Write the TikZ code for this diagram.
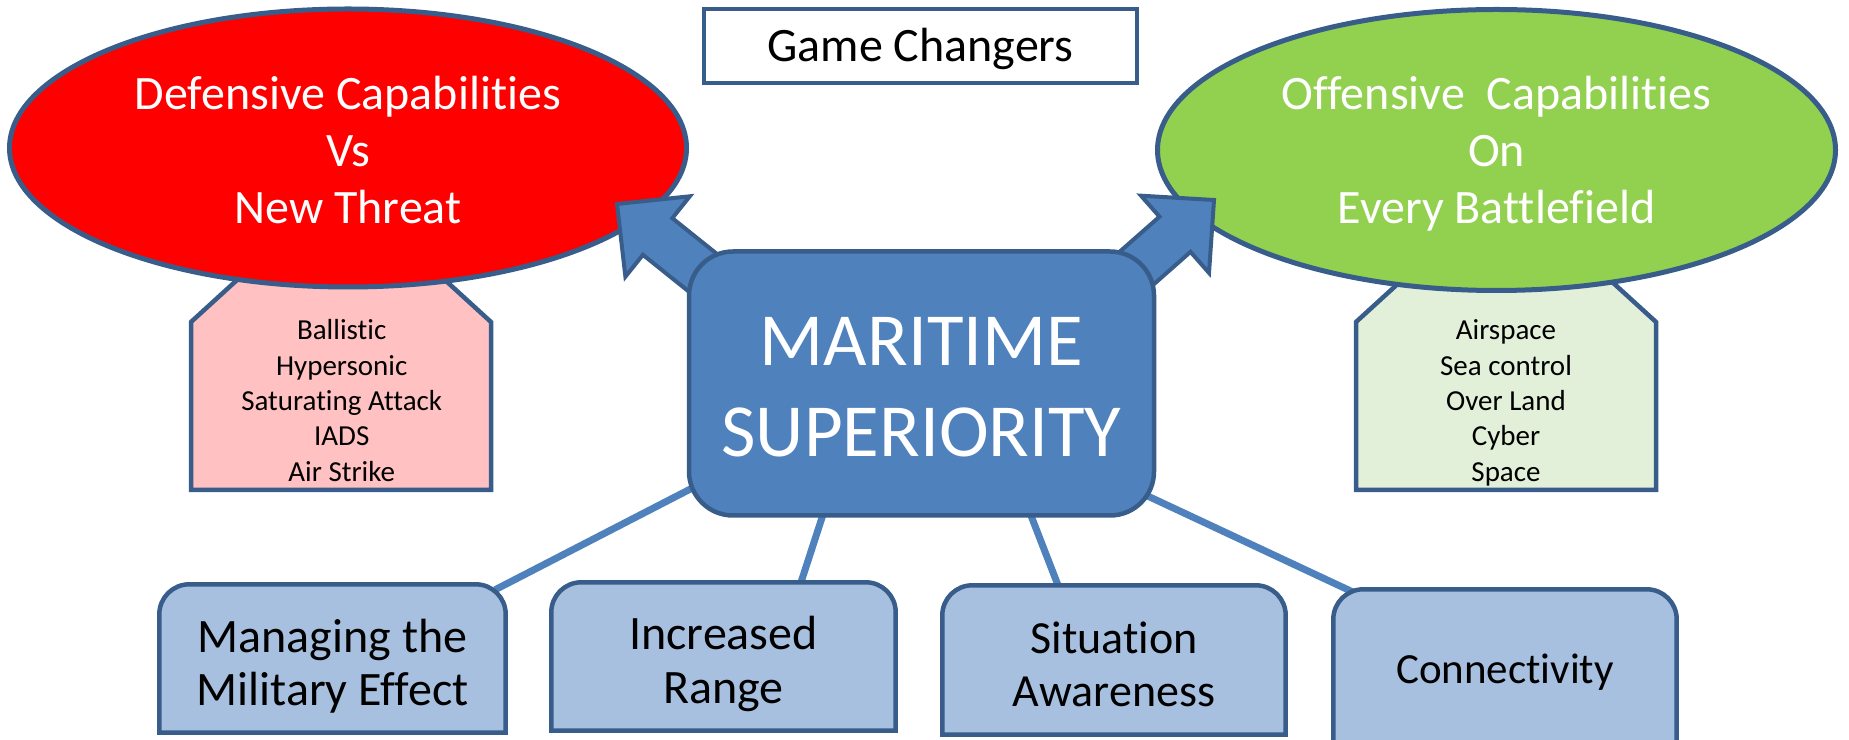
\documentclass[tikz,border=0pt]{standalone}
\usepackage{fontspec}
\setmainfont{Carlito}[Ligatures={NoCommon}]
\usetikzlibrary{shapes.geometric,calc,backgrounds}
\definecolor{edgeblue}{HTML}{385D8A}
\definecolor{mainblue}{HTML}{4F81BD}
\definecolor{lightbox}{HTML}{A7C0DF}
\definecolor{pinkfill}{HTML}{FFC1C1}
\definecolor{palegreen}{HTML}{E2EFD9}
\definecolor{limegreen}{HTML}{92D050}
\definecolor{purered}{HTML}{FF0000}
\begin{document}
\begin{tikzpicture}[x=1pt,y=1pt,
  outl/.style={draw=edgeblue, line width=4.5pt},
  capshape/.style={outl, line join=miter},
  listtext/.style={inner sep=0pt, anchor=base, text=black},
  bigoval/.style={ellipse, outl, line width=5pt, inner sep=0pt, text=white,
    minimum width=677pt, text height=0pt},
  blockarrow/.style={fill=mainblue, draw=edgeblue, line width=4pt, line join=miter},
  corebox/.style={rectangle, outl, fill=mainblue, rounded corners=44pt,
    minimum width=465pt, minimum height=264pt, inner sep=0pt, text=white,
    text height=0pt, text depth=41pt},
  bottomtext/.style={rectangle, inner sep=0pt, text=black, text height=0pt},
  bottomshape/.style={outl, fill=lightbox},
  link/.style={draw=mainblue, line width=7pt},
  titlebox/.style={rectangle, outl, line width=4pt, fill=white, inner sep=0pt,
    minimum width=433pt, minimum height=74pt, text height=32pt, text depth=0pt,
    font=\fontsize{48}{56}\selectfont}
]
\useasboundingbox (0,0) rectangle (1849,739);

% list panels below the ovals
\path[capshape, fill=pinkfill] (191,249) -- (191,417) -- (248,469) -- (434,469)
  -- (491,417) -- (491,249) -- cycle;
\node[listtext] (deflist) at (341.7,399)
  {\fontsize{29}{35.3}\selectfont\begin{tabular}[t]{@{}c@{}}Ballistic\\Hypersonic\\Saturating Attack\\IADS\\Air Strike\end{tabular}};

\path[capshape, fill=palegreen] (1356,249) -- (1356,417) -- (1413,469) -- (1599,469)
  -- (1656,417) -- (1656,249) -- cycle;
\node[listtext] (offlist) at (1506,399)
  {\fontsize{29}{35.3}\selectfont\begin{tabular}[t]{@{}c@{}}Airspace\\Sea control\\Over Land\\Cyber\\Space\end{tabular}};

% ovals
\node[bigoval, fill=purered, minimum height=278pt, text depth=76pt] (def) at (348,591)
  {\fontsize{48}{57}\selectfont\begin{tabular}[t]{@{}c@{}}Defensive Capabilities\\Vs\\New Threat\end{tabular}};
\node[bigoval, fill=limegreen, minimum width=678pt, minimum height=281pt, text depth=80pt] (off) at (1496.5,589)
  {\fontsize{48}{57}\selectfont\begin{tabular}[t]{@{}c@{}}Offensive~ Capabilities\\On\\Every Battlefield\end{tabular}};

% block arrows
\path[blockarrow] (617,535) -- (689.8,542.7) -- (672.3,520.8) -- (738.6,467.7)
  -- (709.2,431.1) -- (642.9,484.2) -- (625.4,462.3) -- cycle;
\path[blockarrow] (1214,539) -- (1141,543.3) -- (1159.5,522.3) -- (1095.7,466.2)
  -- (1126.8,431) -- (1190.5,487.1) -- (1209,466.1) -- cycle;

% central box
\node[corebox, text depth=35pt] (core) at (921.5,355.5)
  {\fontsize{75}{91}\selectfont\begin{tabular}[t]{@{}c@{}}MARITIME\\SUPERIORITY\end{tabular}};

% bottom boxes (text nodes)
\node[bottomtext, minimum width=346pt, minimum height=148pt, text depth=13pt] (b1) at (332.5,80.5)
  {\fontsize{48}{53}\selectfont\begin{tabular}[t]{@{}c@{}}Managing the\\Military Effect\end{tabular}};
\node[bottomtext, minimum width=344pt, minimum height=148pt, text depth=15pt] (b2) at (723.5,82.5)
  {\fontsize{48}{54}\selectfont\begin{tabular}[t]{@{}c@{}}Increased\\Range\end{tabular}};
\node[bottomtext, minimum width=343pt, minimum height=149pt, text depth=13pt] (b3) at (1114,79)
  {\fontsize{46}{53}\selectfont\begin{tabular}[t]{@{}c@{}}Situation\\Awareness\end{tabular}};
\node[bottomtext, minimum width=343pt, minimum height=160pt, text height=28pt, text depth=0pt] (b4) at (1505,69.5)
  {\fontsize{43}{50}\selectfont Connectivity};

\begin{scope}[on background layer]
  \draw[link, shorten <=-12pt, shorten >=-25pt] (b1.north east)
    -- ($(core.south west)!0.1!(core.north west)$);
  \draw[link, shorten <=-10pt, shorten >=-20pt] ($(b2.north west)!0.725!(b2.north east)$)
    -- ($(core.south west)!0.288!(core.south east)$);
  \draw[link, shorten <=-10pt, shorten >=-20pt] ($(b3.north west)!0.337!(b3.north east)$)
    -- ($(core.south west)!0.735!(core.south east)$);
  \draw[link, shorten <=-8pt, shorten >=-25pt] ($(b4.north west)!0.04!(b4.north east)$)
    -- ($(core.south east)!0.066!(core.north east)$);
  \foreach \b in {b1,b2,b3,b4}
    \path[bottomshape] (\b.south west) -- ([yshift=-30pt]\b.north west)
      arc[start angle=180, end angle=90, radius=30pt]
      -- ([xshift=-30pt]\b.north east)
      arc[start angle=90, end angle=0, radius=30pt]
      -- (\b.south east) -- cycle;
\end{scope}

% title
\node[titlebox] (gc) at (920.5,693) {Game Changers};
\end{tikzpicture}
\end{document}
